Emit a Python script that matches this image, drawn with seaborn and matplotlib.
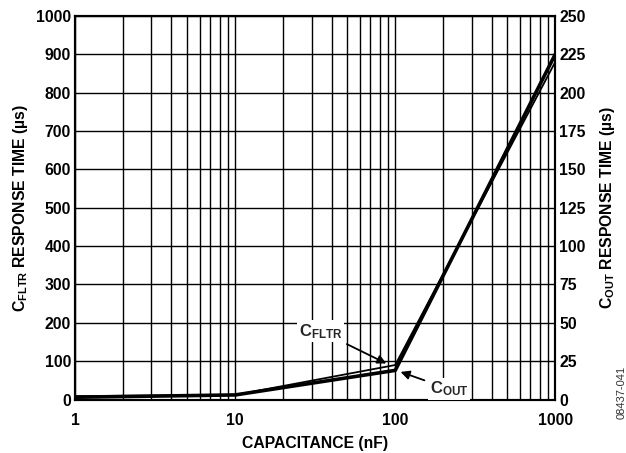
import matplotlib
matplotlib.use("Agg")
import matplotlib.pyplot as plt
import seaborn as sns
import pandas as pd

# Response time vs. capacitance
capacitance_nf = [1, 10, 100, 1000]
cfltr_us = [9, 12, 90, 880]      # left axis (µs)
cout_us = [1.5, 3, 19, 225]      # right axis (µs)

left_ticks = [0, 100, 200, 300, 400, 500, 600, 700, 800, 900, 1000]
right_ticks = [0, 25, 50, 75, 100, 125, 150, 175, 200, 225, 250]
x_ticks = [1, 10, 100, 1000]

sns.set_theme(style="white")
plt.rcParams["font.family"] = ["Liberation Sans", "DejaVu Sans"]
plt.rcParams["font.weight"] = "bold"
plt.rcParams["mathtext.fontset"] = "custom"
plt.rcParams["mathtext.rm"] = "Liberation Sans:weight=bold"
plt.rcParams["mathtext.bf"] = "Liberation Sans:weight=bold"
plt.rcParams["mathtext.it"] = "Liberation Sans:weight=bold"
plt.rcParams["mathtext.sf"] = "Liberation Sans:weight=bold"

FS = 11.3

fig = plt.figure(figsize=(6.26, 4.53), dpi=100)
ax = fig.add_axes([0.12, 0.118, 0.767, 0.847])
ax2 = ax.twinx()

df_f = pd.DataFrame({"c": capacitance_nf, "t": cfltr_us})
df_o = pd.DataFrame({"c": capacitance_nf, "t": cout_us})

sns.lineplot(data=df_f, x="c", y="t", ax=ax, color="black", linewidth=1.3, zorder=5)
sns.lineplot(data=df_o, x="c", y="t", ax=ax2, color="black", linewidth=2.6, zorder=5)

ax.set_xscale("log")
ax.set_xlim(1, 1000)
ax.set_ylim(0, 1000)
ax2.set_ylim(0, 250)
ax.set_xticks(x_ticks)
ax.set_xticklabels([str(v) for v in x_ticks])
ax.set_yticks(left_ticks)
ax2.set_yticks(right_ticks)

ax.grid(True, which="major", color="black", linewidth=1.0)
ax.grid(True, which="minor", axis="x", color="black", linewidth=1.0)
ax2.grid(False)
ax.set_axisbelow(True)

for a in (ax, ax2):
    for s in a.spines.values():
        s.set_color("black")
        s.set_linewidth(1.5)
    a.tick_params(axis="both", which="both", length=0, labelsize=FS, colors="black", pad=3)
    for lab in a.get_xticklabels() + a.get_yticklabels():
        lab.set_fontweight("bold")
ax.tick_params(axis="x", pad=10)
ax.xaxis.set_minor_formatter(matplotlib.ticker.NullFormatter())

ax.set_xlabel("CAPACITANCE (nF)", fontsize=FS, fontweight="bold", labelpad=5.5, color="black")
ax.set_ylabel(r"$\mathbf{C}_{\mathbf{FLTR}}$ RESPONSE TIME (µs)", fontsize=FS,
              fontweight="bold", labelpad=4, color="black")
ax2.set_ylabel(r"$\mathbf{C}_{\mathbf{OUT}}$ RESPONSE TIME (µs)", fontsize=FS,
               fontweight="bold", labelpad=9, color="black")

ax.annotate(r"$\mathbf{C}_{\mathbf{FLTR}}$", xy=(88, cfltr_us[2] + 4), xytext=(25, 178),
            fontsize=12, fontweight="bold", ha="left", va="center",
            arrowprops=dict(arrowstyle="-|>", color="black", lw=1.3,
                            shrinkA=3, shrinkB=0, mutation_scale=13),
            bbox=dict(boxstyle="square,pad=0.1", fc="white", ec="none"), zorder=10)
ax2.annotate(r"$\mathbf{C}_{\mathbf{OUT}}$", xy=(108, cout_us[2] - 1), xytext=(165, 6.8),
             fontsize=12, fontweight="bold", ha="left", va="center",
             arrowprops=dict(arrowstyle="-|>", color="black", lw=1.3,
                             shrinkA=3, shrinkB=0, mutation_scale=13),
             bbox=dict(boxstyle="square,pad=0.1", fc="white", ec="none"), zorder=10)

fig.text(0.993, 0.075, "08437-041", rotation=90, fontsize=8, fontweight="normal",
         color="#333333", ha="center", va="bottom")

fig.savefig("out.png", dpi=100, facecolor="white")
